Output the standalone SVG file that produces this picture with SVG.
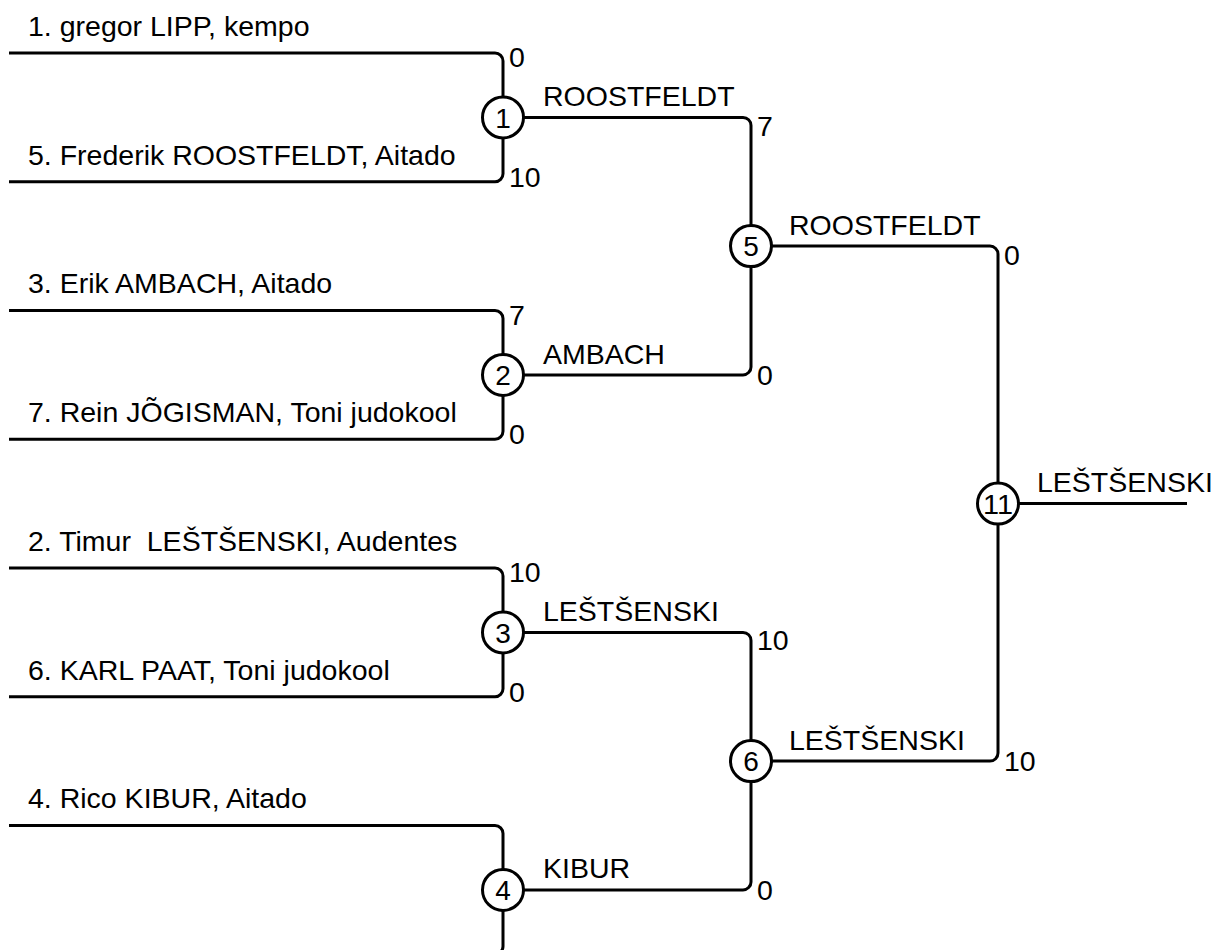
<svg xmlns="http://www.w3.org/2000/svg" width="1213" height="950" viewBox="0 0 1213 950">
<style>
.ln{fill:none;stroke:#000;stroke-width:3}
.nd circle{fill:#fff;stroke:#000;stroke-width:3}
text{font-family:"Liberation Sans",Arial,sans-serif;font-size:28.5px;fill:#000}
.num{text-anchor:middle;font-size:28px}
</style>
<rect width="1213" height="950" fill="#fff"/>
<g id="connectors" class="ln">
<path d="M9 53 H495 A8 8 0 0 1 503 61 V173.75 A8 8 0 0 1 495 181.75 H9"/>
<path d="M9 310.5 H495 A8 8 0 0 1 503 318.5 V431.25 A8 8 0 0 1 495 439.25 H9"/>
<path d="M9 568 H495 A8 8 0 0 1 503 576 V688.75 A8 8 0 0 1 495 696.75 H9"/>
<path d="M9 825.5 H495 A8 8 0 0 1 503 833.5 V946.25 A8 8 0 0 1 495 954.25 H9"/>
<path d="M503 117.4 H743 A8 8 0 0 1 751 125.4 V366.9 A8 8 0 0 1 743 374.9 H503"/>
<path d="M503 632.4 H743 A8 8 0 0 1 751 640.4 V881.9 A8 8 0 0 1 743 889.9 H503"/>
<path d="M751 246.1 H990 A8 8 0 0 1 998 254.1 V753.1 A8 8 0 0 1 990 761.1 H751"/>
<path d="M998 503.6 H1187"/>
</g>
<g id="players">
<text x="28" y="36">1. gregor LIPP, kempo</text>
<text x="28" y="165">5. Frederik ROOSTFELDT, Aitado</text>
<text x="28" y="293">3. Erik AMBACH, Aitado</text>
<text x="28" y="422">7. Rein JÕGISMAN, Toni judokool</text>
<text x="28" y="551" xml:space="preserve">2. Timur  LEŠTŠENSKI, Audentes</text>
<text x="28" y="680">6. KARL PAAT, Toni judokool</text>
<text x="28" y="808">4. Rico KIBUR, Aitado</text>
</g>
<g id="scores">
<text x="509" y="67">0</text>
<text x="509" y="187">10</text>
<text x="509" y="325">7</text>
<text x="509" y="444">0</text>
<text x="509" y="582">10</text>
<text x="509" y="702">0</text>
<text x="757" y="136">7</text>
<text x="757" y="385">0</text>
<text x="757" y="650">10</text>
<text x="757" y="900">0</text>
<text x="1004" y="265">0</text>
<text x="1004" y="771">10</text>
</g>
<g id="winners">
<text x="543" y="106">ROOSTFELDT</text>
<text x="543" y="364">AMBACH</text>
<text x="543" y="621">LEŠTŠENSKI</text>
<text x="543" y="878">KIBUR</text>
<text x="789" y="235">ROOSTFELDT</text>
<text x="789" y="750">LEŠTŠENSKI</text>
<text x="1037" y="492">LEŠTŠENSKI</text>
</g>
<g id="node1" class="nd"><circle cx="503" cy="117.4" r="20.5"/><text class="num" x="503" y="127.5">1</text></g>
<g id="node2" class="nd"><circle cx="503" cy="374.9" r="20.5"/><text class="num" x="503" y="385">2</text></g>
<g id="node3" class="nd"><circle cx="503" cy="632.4" r="20.5"/><text class="num" x="503" y="642.5">3</text></g>
<g id="node4" class="nd"><circle cx="503" cy="889.9" r="20.5"/><text class="num" x="503" y="900">4</text></g>
<g id="node5" class="nd"><circle cx="751" cy="246.1" r="20.5"/><text class="num" x="751" y="256.2">5</text></g>
<g id="node6" class="nd"><circle cx="751" cy="761.1" r="20.5"/><text class="num" x="751" y="771.2">6</text></g>
<g id="node11" class="nd"><circle cx="998" cy="503.6" r="20.5"/><text class="num" x="998" y="513.7" textLength="30" lengthAdjust="spacingAndGlyphs">11</text></g>
</svg>
